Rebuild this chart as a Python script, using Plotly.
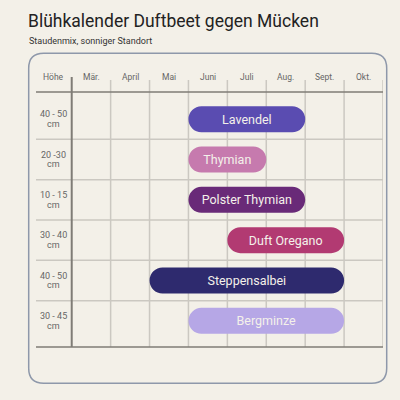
import plotly.graph_objects as go

# ---- data ----
months = ["Mär.", "April", "Mai", "Juni", "Juli", "Aug.", "Sept.", "Okt."]
plants = ["Lavendel", "Thymian", "Polster Thymian", "Duft Oregano", "Steppensalbei", "Bergminze"]
heights = ["40 - 50", "20 -30", "10 - 15", "30 - 40", "40 - 50", "30 - 45"]
start_month = ["Juni", "Juni", "Juni", "Juli", "Mai", "Juni"]
end_month = ["Aug.", "Juli", "Aug.", "Sept.", "Sept.", "Sept."]
colors = ["#5a4cb1", "#c67aae", "#692a78", "#b23a72", "#2e2a6e", "#b6a7e6"]

# ---- layout constants ----
W, H = 400, 400
ML, MR, MT, MB = 36, 17, 92, 53
PW, PH = W - ML - MR, H - MT - MB
BG = "#f3f0e8"
FONT = "Roboto"
XR = [-0.918, len(months)]
YR = [len(plants) - 1 + 0.649, -0.674]


def xp(px):
    return (px - ML) / PW


def yp(py):
    return (H - MB - py) / PH


starts = [months.index(s) for s in start_month]
lengths = [months.index(e) - months.index(s) + 1 for s, e in zip(start_month, end_month)]
rows = list(range(len(plants)))

fig = go.Figure()
fig.add_trace(go.Bar(
    y=rows, x=lengths, base=starts, orientation="h", width=0.645,
    marker=dict(color=colors, cornerradius="50%", line=dict(width=0)),
    text=plants, textposition="inside", insidetextanchor="middle",
    textangle=0, constraintext="none",
    insidetextfont=dict(family=FONT, size=12.5, color="#f4f1ea"),
    hoverinfo="skip",
))

shapes = []
# panel
x0, x1, y0, y1, r = 28.7, 386.7, 53.3, 383.3, 15
path = (f"M {xp(x0 + r)} {yp(y0)} L {xp(x1 - r)} {yp(y0)} "
        f"Q {xp(x1)} {yp(y0)} {xp(x1)} {yp(y0 + r)} L {xp(x1)} {yp(y1 - r)} "
        f"Q {xp(x1)} {yp(y1)} {xp(x1 - r)} {yp(y1)} L {xp(x0 + r)} {yp(y1)} "
        f"Q {xp(x0)} {yp(y1)} {xp(x0)} {yp(y1 - r)} L {xp(x0)} {yp(y0 + r)} "
        f"Q {xp(x0)} {yp(y0)} {xp(x0 + r)} {yp(y0)} Z")
shapes.append(dict(type="path", xref="paper", yref="paper", path=path,
                   line=dict(color="#8e98aa", width=1.5), layer="below"))
# vertical month grid lines
for k in range(1, len(months) + 1):
    shapes.append(dict(type="line", xref="x", yref="paper", x0=k, x1=k, y0=0, y1=yp(80),
                       line=dict(color="#cbc8c1", width=1.5), layer="below"))
# row separators
for i in range(len(plants) - 1):
    shapes.append(dict(type="line", xref="paper", yref="y", x0=0, x1=1, y0=i + 0.5, y1=i + 0.5,
                       line=dict(color="#cbc8c1", width=1.5), layer="below"))
# header + bottom lines
for yy in (0, 1):
    shapes.append(dict(type="line", xref="paper", yref="paper", x0=0, x1=1, y0=yy, y1=yy,
                       line=dict(color="#7f7c76", width=1.6), layer="below"))
# Höhe separator
shapes.append(dict(type="line", xref="x", yref="paper", x0=0, x1=0, y0=0, y1=yp(77),
                   line=dict(color="#7f7c76", width=2), layer="below"))

ann = []
ann.append(dict(text="Blühkalender Duftbeet gegen Mücken", xref="paper", yref="paper",
                x=xp(26), y=yp(21), xanchor="left", yanchor="middle", showarrow=False,
                font=dict(family=FONT, size=17.5, color="#222222")))
ann.append(dict(text="Staudenmix, sonniger Standort", xref="paper", yref="paper",
                x=xp(26.5), y=yp(40.5), xanchor="left", yanchor="middle", showarrow=False,
                font=dict(family=FONT, size=9, color="#333333")))
ann.append(dict(text="Höhe", xref="x", yref="paper", x=XR[0] / 2, y=yp(77),
                xanchor="center", yanchor="middle", showarrow=False,
                font=dict(family=FONT, size=8.5, color="#666666")))
for k, m in enumerate(months):
    ann.append(dict(text=m, xref="x", yref="paper", x=k + 0.5, y=yp(77),
                    xanchor="center", yanchor="middle", showarrow=False,
                    font=dict(family=FONT, size=8.5, color="#666666")))
for i, h in enumerate(heights):
    ann.append(dict(text=h, xref="x", yref="y", x=XR[0] / 2, y=i, yshift=4.8,
                    xanchor="center", yanchor="middle", showarrow=False,
                    font=dict(family=FONT, size=9, color="#666666")))
    ann.append(dict(text="cm", xref="x", yref="y", x=XR[0] / 2, y=i, yshift=-4.8,
                    xanchor="center", yanchor="middle", showarrow=False,
                    font=dict(family=FONT, size=9, color="#666666")))

fig.update_layout(
    width=W, height=H, paper_bgcolor=BG, plot_bgcolor=BG,
    margin=dict(l=ML, r=MR, t=MT, b=MB, pad=0),
    showlegend=False, shapes=shapes, annotations=ann,
    xaxis=dict(range=XR, showgrid=False, zeroline=False, showticklabels=False, fixedrange=True),
    yaxis=dict(range=YR, showgrid=False, zeroline=False, showticklabels=False, fixedrange=True),
    font=dict(family=FONT),
)
fig.write_html("out.html", config={"displayModeBar": False},
               post_script="document.body.style.margin='0';document.body.style.background='" + BG + "';")
